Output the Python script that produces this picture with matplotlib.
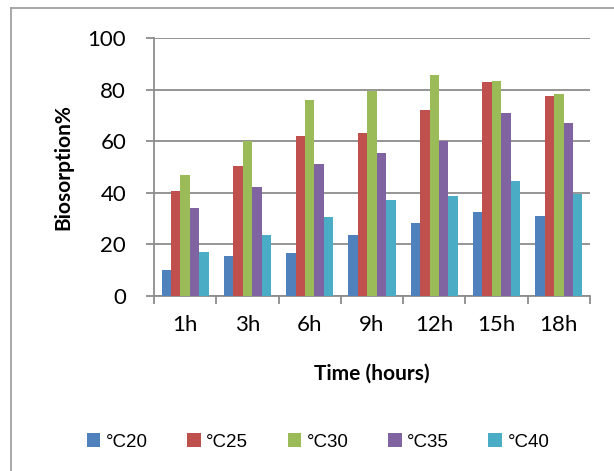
import matplotlib.pyplot as plt
from matplotlib.lines import Line2D
from matplotlib.patches import Patch
import numpy as np

# biosorption (%) at each contact time, one series per temperature
times = ['1h', '3h', '6h', '9h', '12h', '15h', '18h']
temps = ['°C20', '°C25', '°C30', '°C35', '°C40']
t20 = [10.2, 15.5, 16.5, 23.6, 28.4, 32.5, 31.1]
t25 = [40.6, 50.3, 62.1, 63.2, 71.9, 83.1, 77.5]
t30 = [47.0, 59.9, 76.1, 79.6, 85.7, 83.4, 78.3]
t35 = [34.3, 42.2, 51.0, 55.6, 59.9, 71.0, 67.2]
t40 = [17.2, 23.7, 30.8, 37.2, 38.6, 44.5, 39.5]
series = [t20, t25, t30, t35, t40]
colors = ['#4F81BD', '#C0504D', '#9BBB59', '#8064A2', '#4BACC6']

W, H = 614, 471
fig = plt.figure(figsize=(W / 100, H / 100), dpi=100)
ax = fig.add_axes([154 / W, (H - 296) / H, (590 - 154) / W, (296 - 38) / H])

x = np.arange(len(times))
bw = 0.151
for i, (vals, c) in enumerate(zip(series, colors)):
    ax.bar(x + (i - 2) * bw, vals, width=bw, color=c, zorder=3)

grid_c = '#8c8c8c'
ax.set_xlim(-0.5, len(times) - 0.5)
ax.set_ylim(0, 100)
ax.set_yticks(range(0, 101, 20))
ax.yaxis.grid(True, color=grid_c, linewidth=1.3, zorder=0)
ax.set_xticks(x)
ax.set_xticklabels(times)
ax.set_xticks(np.arange(-0.5, len(times), 1), minor=True)
ax.tick_params(axis='x', which='major', length=0, pad=14)
ax.tick_params(axis='x', which='minor', length=6, width=1.3, color=grid_c)
ax.tick_params(axis='y', length=6, width=1.3, color=grid_c, pad=14)
for lab in ax.get_xticklabels() + ax.get_yticklabels():
    lab.set_fontfamily('Lato')
    lab.set_fontsize(16)

for s in ['top', 'right']:
    ax.spines[s].set_visible(False)
for s in ['left', 'bottom']:
    ax.spines[s].set_color(grid_c)
    ax.spines[s].set_linewidth(1.3)

ax.set_ylabel('Biosorption%', fontfamily='Lato', fontsize=15, fontweight='bold', labelpad=10)
ax.set_xlabel('Time (hours)', fontfamily='Lato', fontsize=15, fontweight='bold', labelpad=20)

handles = [Patch(facecolor=c) for c in colors]
fig.legend(handles, temps, loc='center', bbox_to_anchor=(318 / W, 1 - 442 / H),
           ncol=5, frameon=False, prop={'family': 'Liberation Sans', 'size': 13.5},
           handlelength=0.72, handleheight=0.72, handletextpad=0.3, columnspacing=2.1)

# chart area border
fig.add_artist(Line2D([11 / W, 11 / W], [0, 1 - 8 / H], color='#a0a0a0', lw=1.3))
fig.add_artist(Line2D([11 / W, 1], [1 - 8 / H, 1 - 8 / H], color='#a0a0a0', lw=1.3))

fig.savefig('out.png', dpi=100)
